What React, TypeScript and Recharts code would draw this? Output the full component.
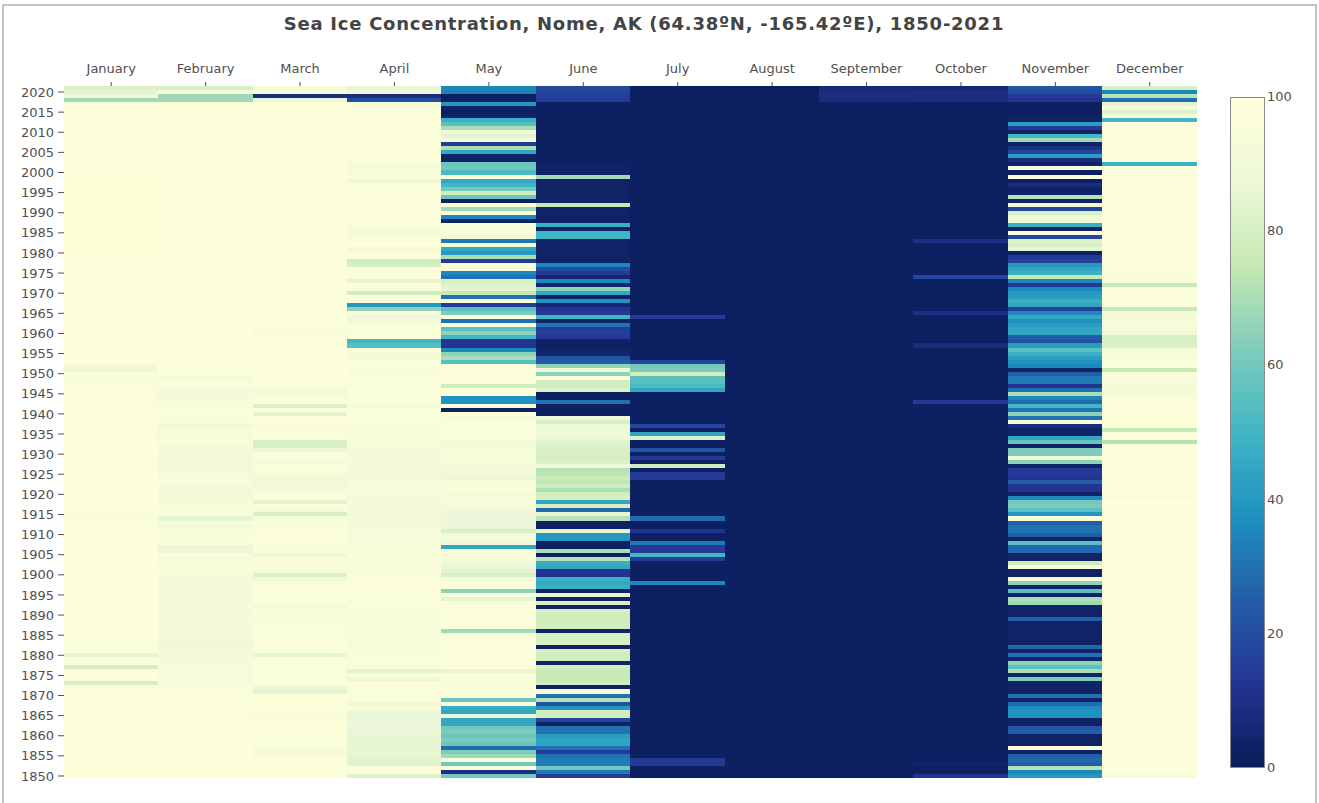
import { Scatter, ScatterChart, XAxis, YAxis } from "recharts";

const months = ["January", "February", "March", "April", "May", "June", "July", "August", "September", "October", "November", "December"];
const yearTicks = [1850, 1855, 1860, 1865, 1870, 1875, 1880, 1885, 1890, 1895, 1900, 1905, 1910, 1915, 1920, 1925, 1930, 1935, 1940, 1945, 1950, 1955, 1960, 1965, 1970, 1975, 1980, 1985, 1990, 1995, 2000, 2005, 2010, 2015, 2020];
const monthTicks = [0, 1, 2, 3, 4, 5, 6, 7, 8, 9, 10, 11];
const barTicks = [100, 80, 60, 40, 20, 0];

// YlGnBu, low to high
const colorStops = ["#081d58", "#253494", "#225ea8", "#1d91c0", "#41b6c4", "#7fcdbb", "#c7e9b4", "#edf8d9", "#ffffd9"];

// every list runs from 2021 down to 1850, first line is 2021-2020, then one line per ten years
const january = [
  82, 85,
  88, 68, 97, 98, 98, 98, 98, 98, 98, 98,
  98, 98, 98, 98, 98, 98, 98, 98, 98, 98,
  99, 99, 99, 99, 99, 99, 99, 99, 99, 99,
  99, 99, 99, 99, 99, 99, 99, 99, 99, 99,
  98, 98, 97, 96, 96, 96, 96, 97, 98, 98,
  98, 98, 98, 98, 98, 98, 98, 98, 98, 98,
  98, 98, 97, 98, 98, 98, 98, 90, 88, 96,
  95, 96, 97, 97, 97, 97, 97, 97, 97, 97,
  98, 98, 98, 97, 97, 97, 98, 98, 98, 98,
  98, 98, 98, 98, 98, 98, 98, 98, 98, 98,
  98, 98, 98, 98, 96, 95, 97, 98, 98, 98,
  98, 98, 98, 98, 98, 98, 98, 98, 98, 98,
  98, 98, 98, 98, 98, 98, 98, 98, 98, 98,
  98, 98, 98, 98, 98, 98, 98, 98, 98, 85,
  96, 98, 80, 97, 98, 97, 80, 96, 98, 98,
  98, 98, 98, 98, 98, 98, 98, 98, 98, 98,
  98, 98, 98, 98, 98, 98, 98, 98, 98, 98,
];
const february = [
  80, 92,
  68, 68, 97, 98, 98, 98, 98, 98, 98, 98,
  98, 98, 98, 98, 98, 98, 98, 98, 98, 98,
  98, 98, 98, 98, 98, 98, 98, 98, 98, 98,
  98, 98, 98, 98, 98, 98, 98, 98, 98, 98,
  97, 96, 96, 96, 96, 96, 96, 97, 97, 97,
  98, 98, 98, 98, 98, 98, 98, 98, 98, 98,
  98, 98, 98, 98, 98, 98, 98, 98, 97, 96,
  93, 95, 96, 90, 93, 93, 94, 95, 96, 96,
  96, 95, 90, 94, 93, 94, 95, 92, 92, 92,
  91, 90, 90, 91, 92, 94, 96, 93, 91, 91,
  91, 93, 95, 96, 94, 85, 95, 90, 96, 96,
  96, 95, 87, 87, 95, 94, 94, 95, 95, 94,
  93, 93, 93, 93, 93, 92, 92, 92, 91, 91,
  92, 93, 93, 93, 92, 90, 89, 90, 92, 93,
  93, 93, 94, 94, 94, 94, 94, 95, 96, 96,
  97, 97, 97, 97, 97, 97, 97, 97, 97, 97,
  98, 98, 98, 98, 98, 98, 98, 98, 98, 98,
];
const march = [
  92, 96,
  8, 87, 97, 98, 98, 98, 98, 98, 98, 98,
  98, 98, 98, 98, 98, 98, 98, 98, 98, 98,
  98, 98, 98, 98, 98, 98, 98, 98, 98, 98,
  98, 98, 98, 98, 98, 98, 98, 98, 98, 98,
  98, 98, 98, 98, 98, 98, 98, 98, 98, 98,
  98, 98, 98, 98, 98, 98, 98, 98, 96, 94,
  96, 98, 98, 98, 98, 98, 98, 98, 98, 98,
  97, 97, 96, 90, 92, 95, 96, 82, 96, 84,
  98, 97, 95, 97, 97, 96, 80, 80, 88, 96,
  95, 92, 96, 96, 94, 90, 90, 90, 93, 95,
  96, 84, 96, 94, 80, 92, 96, 96, 97, 97,
  96, 96, 95, 96, 88, 96, 96, 94, 93, 82,
  90, 95, 96, 96, 96, 96, 96, 90, 96, 96,
  92, 96, 96, 96, 96, 97, 97, 97, 96, 85,
  95, 96, 96, 96, 96, 96, 96, 88, 85, 97,
  98, 98, 98, 95, 95, 95, 98, 98, 98, 98,
  98, 98, 92, 92, 95, 98, 98, 98, 98, 98,
];
const april = [
  86, 88,
  8, 20, 92, 96, 96, 97, 98, 98, 98, 98,
  98, 98, 98, 98, 98, 98, 97, 93, 93, 93,
  97, 88, 97, 98, 98, 98, 98, 97, 97, 98,
  98, 98, 96, 94, 93, 95, 97, 98, 90, 97,
  98, 78, 80, 97, 97, 97, 85, 96, 96, 78,
  98, 97, 40, 65, 97, 88, 90, 97, 97, 96,
  97, 50, 55, 97, 92, 93, 96, 96, 95, 95,
  96, 96, 96, 96, 96, 96, 95, 91, 96, 96,
  96, 96, 96, 95, 95, 94, 94, 94, 93, 93,
  93, 93, 93, 93, 93, 93, 94, 94, 94, 94,
  93, 93, 93, 93, 93, 93, 93, 93, 93, 94,
  94, 94, 94, 94, 95, 95, 95, 95, 95, 95,
  96, 96, 97, 97, 96, 96, 96, 96, 95, 95,
  95, 95, 95, 95, 94, 94, 94, 94, 95, 95,
  96, 96, 97, 84, 95, 88, 97, 97, 97, 96,
  96, 90, 96, 88, 87, 87, 87, 87, 86, 86,
  86, 86, 86, 86, 85, 84, 84, 97, 97, 82,
];
const may = [
  35, 33,
  2, 2, 40, 3, 2, 4, 48, 55, 70, 90,
  85, 92, 15, 70, 45, 3, 3, 58, 60, 52,
  97, 45, 50, 60, 78, 58, 2, 97, 68, 95,
  35, 3, 97, 95, 96, 90, 32, 95, 45, 40,
  70, 15, 97, 96, 35, 30, 80, 82, 85, 75,
  30, 97, 15, 55, 62, 97, 30, 97, 55, 65,
  50, 12, 12, 35, 65, 70, 55, 98, 98, 99,
  98, 99, 78, 98, 99, 38, 38, 98, 2, 98,
  92, 95, 96, 97, 97, 96, 92, 93, 95, 94,
  92, 94, 93, 93, 90, 88, 92, 94, 95, 92,
  94, 92, 93, 90, 88, 87, 88, 87, 80, 90,
  92, 88, 45, 95, 97, 94, 88, 87, 84, 80,
  93, 98, 97, 65, 97, 85, 97, 98, 98, 96,
  96, 98, 98, 68, 96, 97, 97, 97, 97, 98,
  97, 98, 97, 86, 96, 95, 94, 96, 98, 97,
  58, 96, 47, 45, 88, 45, 45, 60, 62, 58,
  62, 58, 28, 62, 68, 96, 60, 96, 10, 60,
];
const june = [
  18, 18,
  16, 14, 2, 2, 2, 2, 2, 2, 2, 2,
  2, 2, 2, 2, 2, 2, 2, 2, 3, 4,
  68, 3, 3, 3, 3, 3, 3, 75, 3, 3,
  3, 3, 48, 3, 50, 50, 3, 3, 3, 3,
  3, 3, 35, 20, 15, 5, 35, 5, 65, 45,
  3, 38, 5, 12, 14, 50, 3, 30, 15, 16,
  14, 3, 2, 3, 5, 22, 25, 65, 88, 65,
  98, 78, 78, 82, 2, 2, 30, 2, 2, 2,
  88, 80, 88, 88, 90, 88, 84, 82, 80, 80,
  80, 82, 90, 72, 73, 76, 74, 78, 70, 78,
  80, 45, 80, 28, 85, 72, 2, 2, 85, 40,
  40, 2, 2, 70, 2, 72, 48, 45, 12, 12,
  48, 45, 48, 3, 85, 3, 80, 3, 80, 78,
  78, 78, 78, 3, 80, 80, 80, 3, 80, 78,
  78, 3, 78, 76, 76, 76, 78, 3, 92, 30,
  72, 22, 40, 78, 78, 18, 3, 30, 30, 42,
  44, 44, 30, 15, 30, 32, 32, 60, 32, 15,
];
const july = [
  2, 2,
  2, 2, 2, 2, 2, 2, 2, 2, 2, 2,
  2, 2, 2, 2, 2, 2, 2, 2, 2, 2,
  2, 2, 2, 2, 2, 2, 2, 2, 2, 2,
  2, 2, 2, 2, 2, 2, 2, 2, 2, 2,
  2, 2, 2, 2, 2, 2, 2, 2, 2, 2,
  2, 2, 2, 2, 2, 14, 2, 2, 2, 2,
  2, 2, 2, 2, 2, 2, 18, 60, 62, 78,
  55, 55, 52, 45, 2, 2, 2, 2, 2, 2,
  2, 2, 18, 2, 45, 82, 2, 2, 22, 2,
  14, 2, 78, 2, 14, 14, 2, 2, 2, 2,
  2, 2, 2, 2, 2, 28, 2, 2, 12, 2,
  2, 32, 14, 14, 50, 15, 2, 2, 2, 2,
  2, 35, 2, 2, 2, 2, 2, 2, 2, 2,
  2, 2, 2, 2, 2, 2, 2, 2, 2, 2,
  2, 2, 2, 2, 2, 2, 2, 2, 2, 2,
  2, 2, 2, 2, 2, 2, 2, 2, 2, 2,
  2, 2, 2, 2, 2, 15, 14, 2, 2, 2,
];
const august = [
  1, 1,
  2, 2, 2, 2, 2, 2, 2, 2, 2, 2,
  2, 2, 2, 2, 2, 2, 2, 2, 2, 2,
  2, 2, 2, 2, 2, 2, 2, 2, 2, 2,
  2, 2, 2, 2, 2, 2, 2, 2, 2, 2,
  2, 2, 2, 2, 2, 2, 2, 2, 2, 2,
  2, 2, 2, 2, 2, 2, 2, 2, 2, 2,
  2, 2, 2, 2, 2, 2, 2, 2, 2, 2,
  2, 2, 2, 2, 2, 2, 2, 2, 2, 2,
  2, 2, 2, 2, 2, 2, 2, 2, 2, 2,
  2, 2, 2, 2, 2, 2, 2, 2, 2, 2,
  2, 2, 2, 2, 2, 2, 2, 2, 2, 2,
  2, 2, 2, 2, 2, 2, 2, 2, 2, 2,
  2, 2, 2, 2, 2, 2, 2, 2, 2, 2,
  2, 2, 2, 2, 2, 2, 2, 2, 2, 2,
  2, 2, 2, 2, 2, 2, 2, 2, 2, 2,
  2, 2, 2, 2, 2, 2, 2, 2, 2, 2,
  2, 2, 2, 2, 2, 2, 2, 2, 2, 2,
];
const september = [
  6, 8,
  9, 8, 2, 2, 2, 2, 2, 2, 2, 2,
  2, 2, 2, 2, 2, 2, 2, 2, 2, 2,
  2, 2, 2, 2, 2, 2, 2, 2, 2, 2,
  2, 2, 2, 2, 2, 2, 2, 2, 2, 2,
  2, 2, 2, 2, 2, 2, 2, 2, 2, 2,
  2, 2, 2, 2, 2, 2, 2, 2, 2, 2,
  2, 2, 2, 2, 2, 2, 2, 2, 2, 2,
  2, 2, 2, 2, 2, 2, 2, 2, 2, 2,
  2, 2, 2, 2, 2, 2, 2, 2, 2, 2,
  2, 2, 2, 2, 2, 2, 2, 2, 2, 2,
  2, 2, 2, 2, 2, 2, 2, 2, 2, 2,
  2, 2, 2, 2, 2, 2, 2, 2, 2, 2,
  2, 2, 2, 2, 2, 2, 2, 2, 2, 2,
  2, 2, 2, 2, 2, 2, 2, 2, 2, 2,
  2, 2, 2, 2, 2, 2, 2, 2, 2, 2,
  2, 2, 2, 2, 2, 2, 2, 2, 2, 2,
  2, 2, 2, 2, 2, 2, 2, 2, 2, 2,
];
const october = [
  5, 8,
  8, 8, 2, 2, 2, 2, 2, 2, 2, 2,
  2, 2, 2, 2, 2, 2, 2, 2, 2, 2,
  2, 2, 2, 2, 2, 2, 2, 2, 2, 2,
  2, 2, 2, 2, 2, 2, 10, 2, 2, 2,
  2, 2, 2, 2, 2, 18, 2, 2, 2, 2,
  2, 2, 2, 2, 10, 2, 2, 2, 2, 2,
  2, 2, 8, 2, 2, 2, 2, 2, 2, 2,
  2, 2, 2, 2, 2, 2, 14, 2, 2, 2,
  2, 2, 2, 2, 2, 2, 2, 2, 2, 2,
  2, 2, 2, 2, 2, 2, 2, 2, 2, 2,
  2, 2, 2, 2, 2, 2, 2, 2, 2, 2,
  2, 2, 2, 2, 2, 2, 2, 2, 2, 2,
  2, 2, 2, 2, 2, 2, 2, 2, 2, 2,
  2, 2, 2, 2, 2, 2, 2, 2, 2, 2,
  2, 2, 2, 2, 2, 2, 2, 2, 2, 2,
  2, 2, 2, 2, 2, 2, 2, 2, 2, 2,
  2, 2, 2, 2, 2, 2, 4, 2, 2, 12,
];
const november = [
  22, 20,
  14, 12, 2, 2, 2, 3, 3, 42, 15, 3,
  50, 68, 3, 10, 18, 42, 8, 3, 96, 2,
  97, 2, 8, 3, 4, 72, 3, 92, 18, 80,
  90, 90, 48, 3, 96, 18, 82, 80, 85, 2,
  14, 16, 40, 45, 48, 75, 35, 14, 35, 40,
  42, 48, 45, 16, 35, 45, 38, 42, 45, 45,
  25, 22, 42, 55, 48, 42, 38, 35, 3, 25,
  32, 32, 12, 30, 70, 35, 28, 50, 30, 65,
  30, 96, 8, 3, 3, 45, 58, 3, 62, 62,
  92, 65, 3, 14, 14, 12, 25, 12, 12, 3,
  35, 60, 62, 55, 40, 97, 25, 30, 30, 25,
  3, 55, 28, 28, 3, 3, 78, 96, 3, 3,
  92, 65, 3, 55, 3, 70, 68, 3, 3, 3,
  25, 3, 3, 3, 3, 3, 3, 28, 3, 30,
  3, 65, 55, 70, 3, 62, 3, 3, 3, 30,
  3, 28, 36, 38, 38, 3, 3, 22, 25, 3,
  3, 3, 97, 3, 25, 28, 25, 72, 35, 40,
];
const december = [
  80, 35,
  72, 30, 85, 94, 82, 92, 50, 98, 98, 97,
  97, 96, 97, 97, 97, 97, 98, 48, 97, 96,
  97, 97, 98, 98, 98, 98, 98, 98, 98, 98,
  98, 98, 98, 98, 98, 98, 98, 98, 98, 98,
  98, 98, 98, 96, 96, 95, 96, 75, 96, 96,
  97, 96, 96, 75, 93, 93, 94, 97, 92, 88,
  80, 80, 82, 94, 92, 94, 96, 96, 75, 96,
  94, 93, 93, 93, 93, 97, 98, 98, 98, 98,
  98, 98, 98, 75, 98, 98, 72, 98, 98, 98,
  98, 98, 98, 98, 98, 98, 98, 98, 98, 98,
  95, 98, 98, 98, 98, 98, 98, 98, 98, 98,
  98, 98, 98, 98, 98, 98, 98, 98, 98, 98,
  98, 98, 98, 98, 98, 98, 98, 98, 98, 98,
  98, 98, 98, 98, 98, 98, 98, 98, 98, 98,
  98, 98, 98, 98, 98, 98, 98, 98, 98, 98,
  98, 98, 98, 98, 98, 98, 98, 98, 98, 98,
  98, 98, 98, 98, 98, 98, 98, 98, 98, 94,
];

const monthValues = [january, february, march, april, may, june, july, august, september, october, november, december];

const cells = monthValues.flatMap((values, month) =>
  values.map((value, i) => ({ month, year: 2021 - i, value })),
);

const hexToRgb = (hex: string) => [1, 3, 5].map((i) => parseInt(hex.slice(i, i + 2), 16));

const colorFor = (value: number) => {
  const pos = (Math.max(0, Math.min(100, value)) / 100) * (colorStops.length - 1);
  const i = Math.min(Math.floor(pos), colorStops.length - 2);
  const a = hexToRgb(colorStops[i]);
  const b = hexToRgb(colorStops[i + 1]);
  const mix = a.map((c, k) => Math.round(c + (b[k] - c) * (pos - i)));
  return `rgb(${mix.join(",")})`;
};

const CHART_W = 1319;
const CHART_H = 803;
const CELL_W = 95;
const CELL_H = 4.03;
const FONT = '"DejaVu Sans", Verdana, sans-serif';
const TEXT = "#505050";

// rows are drawn top to bottom, so the extra pixel of height is hidden by the next row
const HeatCell = (props: any) => {
  const { cx, cy, payload } = props;
  return (
    <rect
      x={cx - CELL_W / 2}
      y={cy - CELL_H / 2}
      width={CELL_W}
      height={payload.year === 1850 ? CELL_H : CELL_H + 1}
      fill={colorFor(payload.value)}
      shapeRendering="crispEdges"
    />
  );
};

const ColorBar = () => (
  <div style={{ position: "absolute", left: 1230, top: 97, width: 35, height: 671 }}>
    <div
      style={{
        width: "100%",
        height: "100%",
        boxSizing: "border-box",
        border: "1px solid #8a8a8a",
        background: `linear-gradient(to top, ${colorStops.join(",")})`,
      }}
    />
    {barTicks.map((t) => (
      <span
        key={t}
        style={{
          position: "absolute",
          left: 37,
          top: ((100 - t) / 100) * 671 - 8,
          fontFamily: FONT,
          fontSize: 13,
          lineHeight: "16px",
          color: TEXT,
        }}
      >
        {t}
      </span>
    ))}
  </div>
);

export default function App() {
  return (
    <div
      style={{
        position: "absolute",
        left: 0,
        top: 0,
        width: CHART_W,
        height: CHART_H,
        background: "#fff",
        overflow: "hidden",
      }}
    >
      <div
        style={{
          position: "absolute",
          left: 2,
          top: 4,
          width: 1315,
          height: 810,
          boxSizing: "border-box",
          border: "2px solid #c4c4c4",
        }}
      />
      <div
        style={{
          position: "absolute",
          top: 12,
          left: 0,
          width: 1288,
          textAlign: "center",
          fontFamily: FONT,
          fontSize: 18,
          fontWeight: 700,
          letterSpacing: 0.74,
          lineHeight: "24px",
          color: "#444",
        }}
      >
        Sea Ice Concentration, Nome, AK (64.38ºN, -165.42ºE), 1850-2021
      </div>
      <div style={{ position: "absolute", left: 0, top: 0 }}>
        <ScatterChart
          width={CHART_W}
          height={CHART_H}
          margin={{ top: 62, right: 122, bottom: 25, left: 0 }}
        >
          <XAxis
            type="number"
            dataKey="month"
            orientation="top"
            domain={[-0.5, 11.5]}
            ticks={monthTicks}
            tickFormatter={(m: number) => months[m]}
            interval={0}
            height={24}
            axisLine={false}
            tickSize={4}
            tickMargin={9}
            tickLine={{ stroke: TEXT }}
            tick={{ fill: TEXT, fontSize: 13, fontFamily: FONT }}
          />
          <YAxis
            type="number"
            dataKey="year"
            domain={[1849.5, 2021.5]}
            ticks={yearTicks}
            interval={0}
            width={64}
            axisLine={false}
            tickSize={6}
            tickMargin={4}
            tickLine={{ stroke: TEXT }}
            tick={{ fill: TEXT, fontSize: 13, fontFamily: FONT }}
          />
          <Scatter data={cells} shape={HeatCell} isAnimationActive={false} />
        </ScatterChart>
      </div>
      <ColorBar />
    </div>
  );
}
